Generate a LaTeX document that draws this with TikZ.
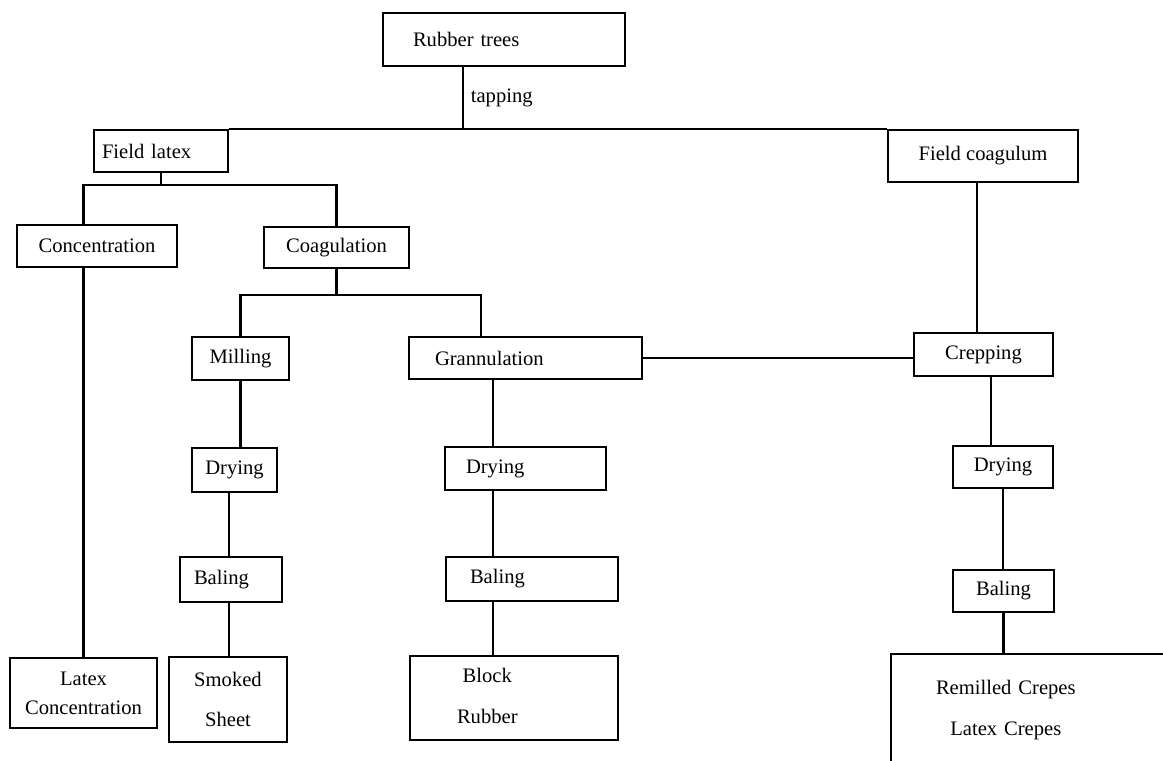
\documentclass[tikz,border=0pt]{standalone}
\usepackage{fontspec}
\setmainfont{Liberation Serif}
\usetikzlibrary{calc}
\begin{document}
\begin{tikzpicture}[x=0.5pt, y=-0.5pt, line width=1.2pt,
  every node/.style={font=\fontsize{10.3}{12.4}\selectfont},
  box/.style 2 args={draw, rectangle, minimum width=#1, minimum height=#2, inner sep=2pt, align=center}]
  \tikzset{boxl/.style n args={4}{box={#1}{#2}, align=left, inner xsep=#3, text width=#4}}
  \useasboundingbox (0,0) rectangle (1163,761);
  \clip (0,0) rectangle (1163,761);

  % boxes
  \node[boxl={121pt}{26.5pt}{15pt}{91pt}] (trees) at (504,39.5) {Rubber trees};
  \node[boxl={67pt}{21pt}{4pt}{59pt}] (fl) at (161,151) {Field latex};
  \node[box={95pt}{26pt}] (fc) at (983,156) {Field coagulum};
  \node[box={80pt}{21pt}] (conc) at (97,246) {Concentration};
  \node[box={72.5pt}{20.5pt}] (coag) at (336.5,247.5) {Coagulation};
  \node[box={48.5pt}{21.5pt}] (mill) at (240.5,358.5) {Milling};
  \node[boxl={116.5pt}{21pt}{13pt}{90.5pt}] (gran) at (525.5,358) {Grannulation};
  \node[box={69.5pt}{21.5pt}] (crep) at (983.5,354.5) {Crepping};
  \node[box={42.5pt}{22pt}] (dry1) at (234.5,470) {Drying};
  \node[boxl={80.5pt}{21.5pt}{10.5pt}{59.5pt}] (dry2) at (525.5,468.5) {Drying};
  \node[box={50pt}{21pt}] (dry3) at (1003,467) {Drying};
  \node[boxl={51pt}{22.5pt}{7pt}{37pt}] (bal1) at (231,579.5) {Baling};
  \node[boxl={86pt}{22pt}{12pt}{62pt}] (bal2) at (532,579) {Baling};
  \node[box={50.5pt}{21pt}] (bal3) at (1003.5,591) {Baling};
  \node[box={73.5pt}{35pt}] (lc) at (83.5,693) {Latex\\[2pt]Concentration};
  \node[box={59pt}{42.5pt}] (smoked) at (228,699.5) {Smoked\\[8pt]Sheet};
  \node[boxl={104pt}{42pt}{23.5pt}{57pt}] (block) at (514,698) {\begin{tabular}{@{}c@{}}Block\\[8pt]Rubber\end{tabular}};
  \node[boxl={179.5pt}{56pt}{22.5pt}{134.5pt}] (crepes) at (1070.5,710) {\begin{tabular}{@{}c@{}}Remilled Crepes\\[8.5pt]Latex Crepes\end{tabular}};

  % spines and bars
  \coordinate (tap) at (463,0);
  \coordinate (bar1) at (0,185);
  \coordinate (bar2) at (0,295);
  \coordinate (sp1) at (229,0);
  \coordinate (sp2a) at (481,0);
  \coordinate (sp2b) at (493,0);
  \coordinate (sp3a) at (977,0);
  \coordinate (sp3b) at (991,0);

  \draw (tap |- trees.south) -- (tap |- fl.north) node[midway, right] {tapping};
  \draw (fl.north east) -- (fc.north west);
  \draw (fl.south) -- (fl.south |- bar1);
  \draw (lc.north |- conc.north) |- (coag.north |- bar1) -- (coag.north);
  \draw (lc.north |- conc.south) -- (lc.north);
  \draw (coag.south) -- (coag.south |- bar2);
  \draw (mill.north) |- (sp2a |- bar2) -- (sp2a |- gran.north);
  \draw (gran.east) -- (gran.east -| crep.west);
  \draw (sp3a |- fc.south) -- (sp3a |- crep.north);
  \draw (mill.south) -- (mill.south |- dry1.north);
  \draw (sp1 |- dry1.south) -- (sp1 |- bal1.north);
  \draw (sp1 |- bal1.south) -- (sp1 |- smoked.north);
  \draw (sp2b |- gran.south) -- (sp2b |- dry2.north);
  \draw (sp2b |- dry2.south) -- (sp2b |- bal2.north);
  \draw (sp2b |- bal2.south) -- (sp2b |- block.north);
  \draw (sp3b |- crep.south) -- (sp3b |- dry3.north);
  \draw (dry3.south) -- (dry3.south |- bal3.north);
  \draw (bal3.south) -- (bal3.south |- crepes.north);
\end{tikzpicture}
\end{document}
